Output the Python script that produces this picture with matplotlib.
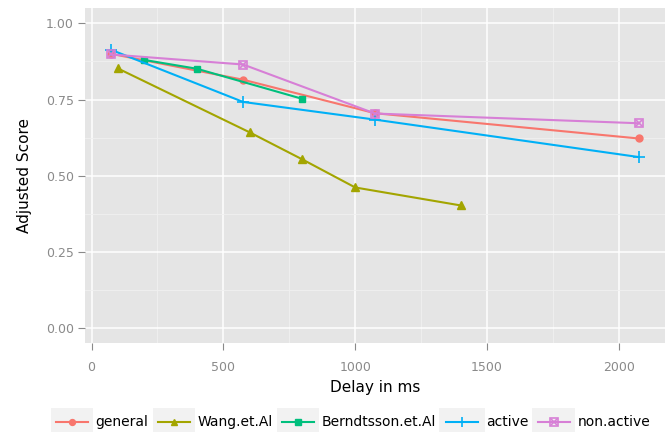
import matplotlib
matplotlib.use("Agg")
import matplotlib.pyplot as plt
from matplotlib.patches import Rectangle

plt.rcParams["font.family"] = ["DejaVu Sans"]

# values
general_x = [75, 575, 1075, 2075]
general_y = [0.900, 0.815, 0.705, 0.622]

wang_x = [100, 600, 800, 1000, 1400]
wang_y = [0.852, 0.642, 0.553, 0.461, 0.402]

berndtsson_x = [200, 400, 800]
berndtsson_y = [0.880, 0.851, 0.752]

active_x = [75, 575, 1075, 2075]
active_y = [0.913, 0.742, 0.684, 0.561]

nonactive_x = [75, 575, 1075, 2075]
nonactive_y = [0.898, 0.865, 0.704, 0.672]

x_ticks = [0, 500, 1000, 1500, 2000]
y_ticks = [0.00, 0.25, 0.50, 0.75, 1.00]
y_ticklabels = ["0.00", "0.25", "0.50", "0.75", "1.00"]

# ggplot hue palette
C_GEN = "#F8766D"
C_WANG = "#A3A500"
C_BERN = "#00BF7D"
C_ACT = "#00B0F6"
C_NON = "#D77FD6"

fig = plt.figure(figsize=(6.67, 4.32), dpi=100)
ax = fig.add_axes([0.1274, 0.206, 0.8696, 0.775])
ax.set_facecolor("#E5E5E5")

lw = 1.5
h_gen, = ax.plot(general_x, general_y, "-o", color=C_GEN, lw=lw, ms=5, label="general", zorder=3)
h_wang, = ax.plot(wang_x, wang_y, "-^", color=C_WANG, lw=lw, ms=5.5, label="Wang.et.Al", zorder=3)
h_bern, = ax.plot(berndtsson_x, berndtsson_y, "-s", color=C_BERN, lw=lw, ms=5, label="Berndtsson.et.Al", zorder=3)
h_act, = ax.plot(active_x, active_y, "-+", color=C_ACT, lw=lw, ms=8, mew=1.2, label="active", zorder=3)
h_non, = ax.plot(nonactive_x, nonactive_y, "-s", color=C_NON, lw=lw, ms=6, mfc="none", mew=1.2,
                 label="non.active", zorder=3)
h_nonx, = ax.plot(nonactive_x, nonactive_y, "x", color=C_NON, ms=4.5, mew=1.2, zorder=3)

ax.set_xlim(-25, 2175)
ax.set_ylim(-0.05, 1.05)
ax.set_xticks(x_ticks)
ax.set_yticks(y_ticks)
ax.set_yticklabels(y_ticklabels)
ax.set_xticks([250, 750, 1250, 1750], minor=True)
ax.set_yticks([0.125, 0.375, 0.625, 0.875], minor=True)
ax.grid(True, which="major", color="white", lw=1.1, zorder=0)
ax.grid(True, which="minor", color="#F0F0F0", lw=0.6, zorder=0)
ax.set_axisbelow(True)
for s in ax.spines.values():
    s.set_visible(False)
ax.tick_params(which="major", colors="#8A8A8A", labelsize=9, length=5, width=0.8, pad=3)
ax.tick_params(which="minor", length=0)
ax.tick_params(axis="x", pad=8)

ax.set_xlabel("Delay in ms", fontsize=11, labelpad=4)
ax.set_ylabel("Adjusted Score", fontsize=11, labelpad=10)

leg = fig.legend(handles=[h_gen, h_wang, h_bern, h_act, (h_non, h_nonx)],
                 labels=["general", "Wang.et.Al", "Berndtsson.et.Al", "active", "non.active"],
                 loc="center", bbox_to_anchor=(0.529, 0.022), ncol=5, frameon=False, fontsize=10,
                 handlelength=2.3, handletextpad=0.55, columnspacing=0.7, borderpad=0,
                 markerscale=0.85)

fig.canvas.draw()
inv = fig.transFigure.inverted()
for lh in leg.get_lines():
    bb = lh.get_window_extent()
    x0, x1 = bb.x0 - 2, bb.x1 + 2
    yc = (bb.y0 + bb.y1) / 2
    (fx0, fy0) = inv.transform((x0, yc - 14))
    (fx1, fy1) = inv.transform((x1, yc + 14))
    fig.patches.append(Rectangle((fx0, fy0), fx1 - fx0, fy1 - fy0, transform=fig.transFigure,
                                 facecolor="#F2F2F2", edgecolor="none", zorder=0))

fig.savefig("out.png", dpi=100)
